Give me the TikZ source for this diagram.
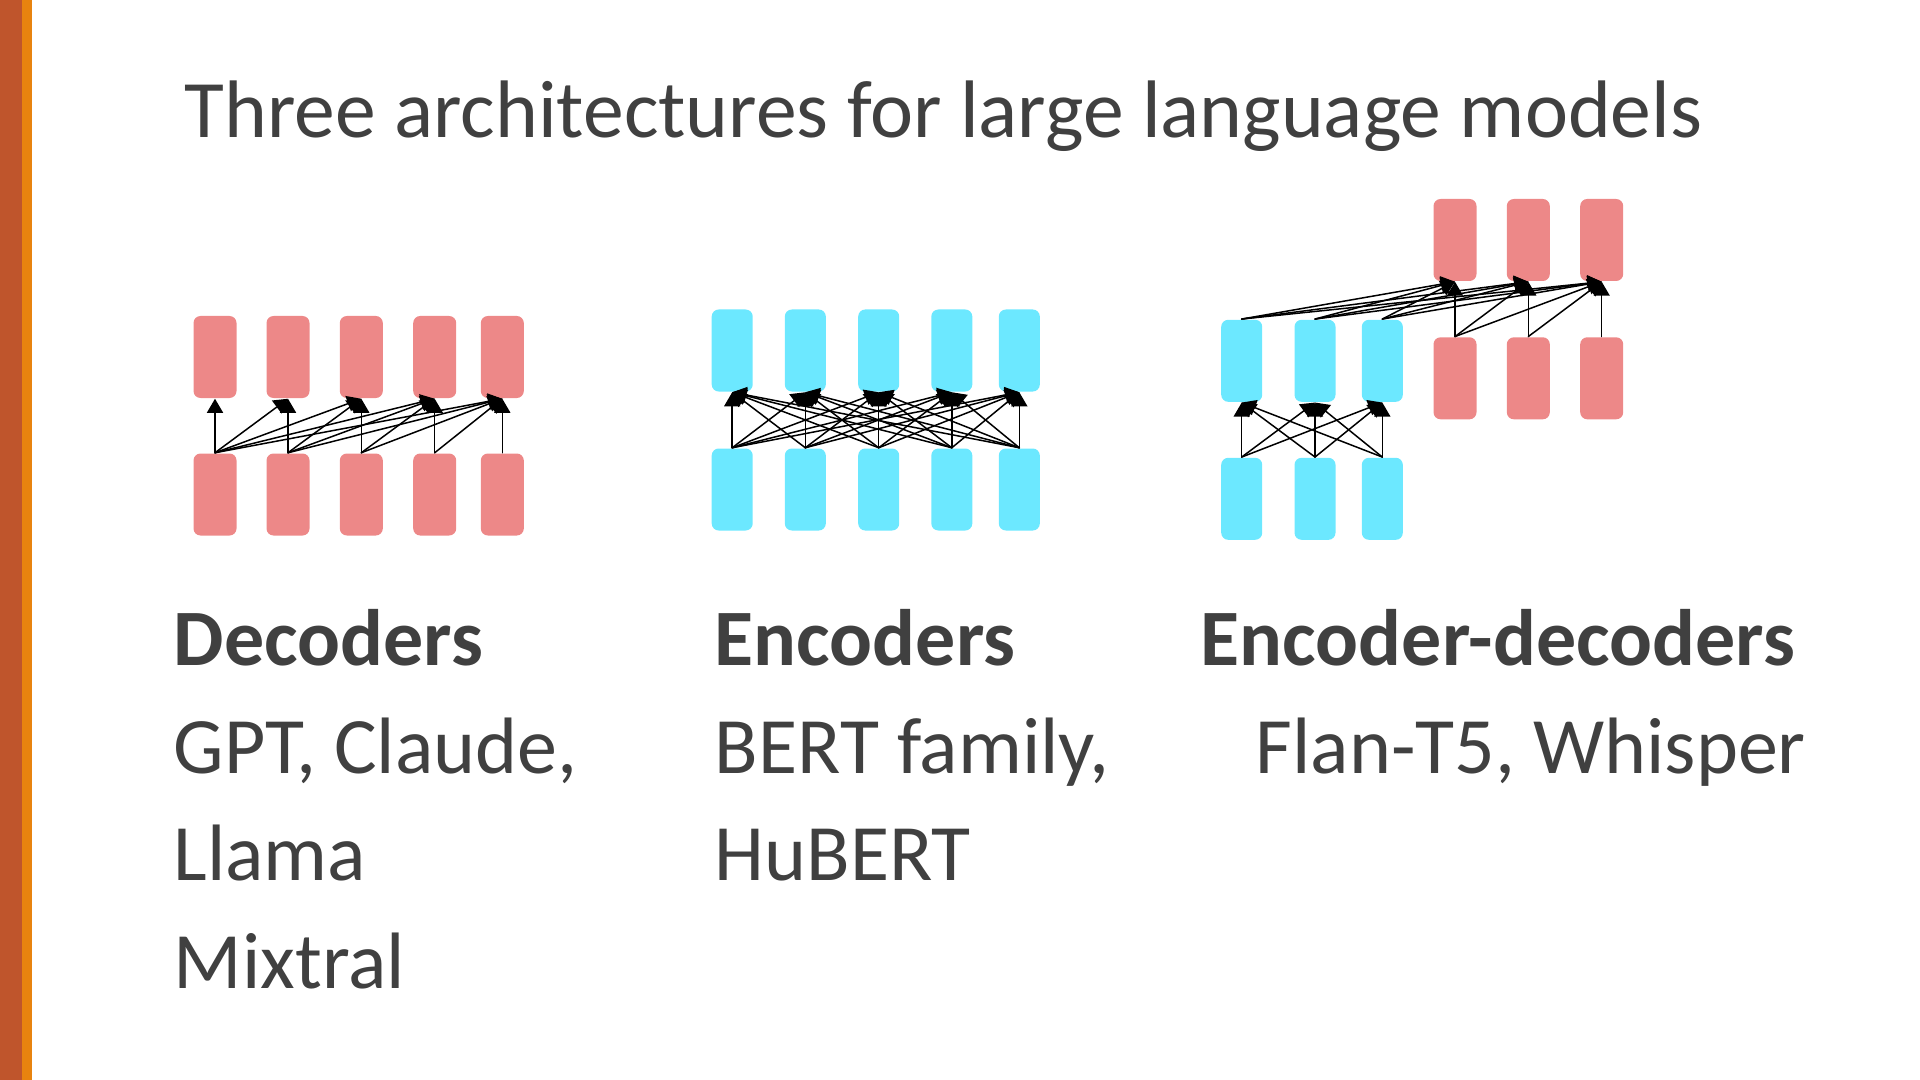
\documentclass[tikz,border=0pt]{standalone}
\usepackage{fontspec}
\setmainfont{Carlito}
\usetikzlibrary{arrows.meta}
\definecolor{txtgray}{HTML}{404040}
\definecolor{decpink}{HTML}{ED8888}
\definecolor{enccyan}{HTML}{6CE8FF}
\definecolor{barrust}{HTML}{BF552C}
\definecolor{barorange}{HTML}{E8830F}
\tikzset{
	tok/.style={rectangle, rounded corners=3.5pt, inner sep=0pt, minimum width=21.5pt, minimum height=41pt},
	dec/.style={tok, fill=decpink},
	enc/.style={tok, fill=enccyan, minimum width=20.5pt},
	lbl/.style={anchor=base west, inner sep=0pt, text=txtgray, font=\fontsize{40}{48}\selectfont},
	head/.style={lbl, font=\fontsize{40}{48}\selectfont\bfseries}
}
\begin{document}
\begin{tikzpicture}[x=0.5pt, y=-0.5pt, line join=round, line cap=round, line width=0.75pt, >={Triangle[width=8pt,length=7pt]}]
	\useasboundingbox (0,0) rectangle (1920,1080);
	\fill[barrust] (0,0) rectangle (22,1080);
	\fill[barorange] (22,0) rectangle (32,1080);
	\node[lbl, font=\fontsize{40.8}{48}\selectfont] (title) at (184,138) {Three architectures for large language models};
	\foreach \i/\x in {1/215,2/288,3/361.3,4/434.7,5/502.3}{
		\node[dec] (dt\i) at (\x,357) {};
		\node[dec] (db\i) at (\x,494.5) {};}
	\foreach \i in {1,...,5}
		\foreach \j in {\i,...,5}
			\draw[->] (db\i.north) -- (dt\j.south);
	\foreach \i/\x in {1/732.2,2/805.3,3/878.7,4/951.8,5/1019.3}{
		\node[enc] (et\i) at (\x,350.5) {};
		\node[enc] (eb\i) at (\x,489.5) {};}
	\foreach \i in {1,...,5}
		\foreach \j in {1,...,5}
			\draw[->] (eb\i.north) -- (et\j.south);
	\foreach \i/\x/\y in {1/1455/1241.7,2/1528.3/1315,3/1601.7/1382.3}{
		\node[dec] (xdt\i) at (\x,240) {};
		\node[dec] (xdb\i) at (\x,378.3) {};
		\node[enc] (xet\i) at (\y,360.8) {};
		\node[enc] (xeb\i) at (\y,498.8) {};}
	\foreach \i in {1,2,3}{
		\foreach \j in {1,2,3}{
			\draw[->] (xeb\i.north) -- (xet\j.south);
			\draw[->] (xet\i.north) -- (xdt\j.south);}
		\foreach \j in {\i,...,3}
			\draw[->] (xdb\i.north) -- (xdt\j.south);}
	\node[head] (hdec) at (173,665) {Decoders};
	\node[lbl] (ldec1) at (173,773) {GPT, Claude,};
	\node[lbl] (ldec2) at (173,880) {Llama};
	\node[lbl] (ldec3) at (173,988) {Mixtral};
	\node[head] (henc) at (714,665) {Encoders};
	\node[lbl] (lenc1) at (714,773) {BERT family,};
	\node[lbl] (lenc2) at (714,880) {HuBERT};
	\node[head] (hed) at (1200,665) {Encoder-decoders};
	\node[lbl] (led) at (1255,773) {Flan-T5, Whisper};
\end{tikzpicture}
\end{document}
